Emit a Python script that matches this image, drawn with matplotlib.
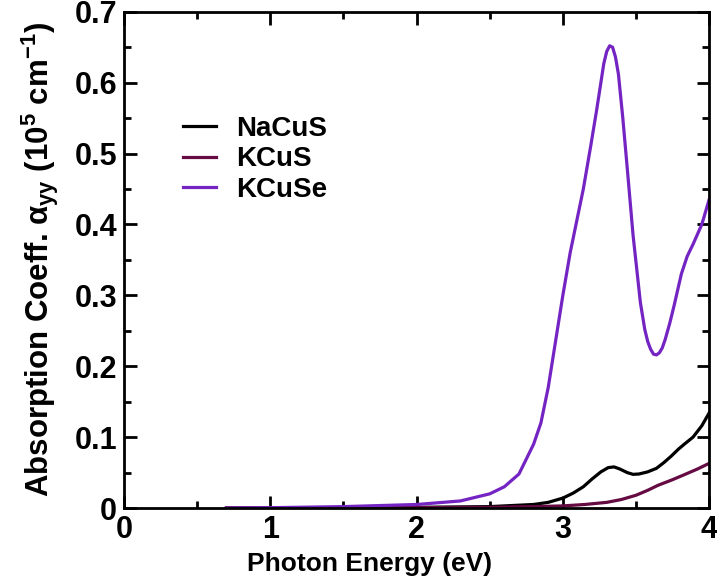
import matplotlib
matplotlib.use('Agg')
import matplotlib.pyplot as plt
from matplotlib.ticker import MultipleLocator

plt.rcParams.update({
    'font.family': 'Liberation Sans',
    'font.weight': 'bold',
    'mathtext.fontset': 'custom',
    'mathtext.rm': 'Liberation Sans:bold',
    'mathtext.bf': 'Liberation Sans:bold',
    'mathtext.it': 'Liberation Sans:bold',
    'xtick.direction': 'in',
    'ytick.direction': 'in',
})

# ── Dados ──────────────────────────────────────────────────────────────────────
e_kcuse = [0.7, 1.0, 1.5, 2.0, 2.3, 2.5, 2.6, 2.7, 2.8, 2.85, 2.9, 2.95, 3.0,
           3.05, 3.1, 3.14, 3.19, 3.23, 3.26, 3.28, 3.30, 3.32, 3.34, 3.36,
           3.38, 3.41, 3.44, 3.48, 3.53, 3.56, 3.58, 3.60, 3.62, 3.64, 3.66,
           3.68, 3.70, 3.73, 3.76, 3.81, 3.85, 3.89, 3.95, 4.0]
a_kcuse = [0.0, 0.0005, 0.002, 0.005, 0.01, 0.02, 0.03, 0.048, 0.09, 0.12,
           0.17, 0.235, 0.30, 0.36, 0.41, 0.45, 0.51, 0.56, 0.60, 0.627, 0.644,
           0.652, 0.650, 0.636, 0.612, 0.55, 0.48, 0.385, 0.29, 0.252, 0.235,
           0.224, 0.217, 0.216, 0.219, 0.226, 0.238, 0.26, 0.285, 0.33, 0.355,
           0.372, 0.40, 0.435]

e_nacus = [0.7, 1.5, 2.0, 2.5, 2.8, 2.9, 3.0, 3.07, 3.14, 3.2, 3.26, 3.31,
           3.35, 3.39, 3.44, 3.48, 3.52, 3.58, 3.64, 3.69, 3.74, 3.79, 3.83,
           3.89, 3.95, 4.0]
a_nacus = [0.0, 0.0005, 0.001, 0.002, 0.005, 0.008, 0.014, 0.021, 0.030,
           0.041, 0.051, 0.057, 0.058, 0.055, 0.050, 0.0475, 0.048, 0.051,
           0.056, 0.064, 0.073, 0.083, 0.090, 0.100, 0.116, 0.134]

e_kcus = [0.7, 2.0, 2.5, 2.8, 3.0, 3.15, 3.3, 3.4, 3.5, 3.58, 3.65, 3.75,
          3.83, 3.92, 4.0]
a_kcus = [0.0, 0.0005, 0.001, 0.002, 0.003, 0.005, 0.008, 0.012, 0.018,
          0.025, 0.032, 0.040, 0.047, 0.055, 0.063]

x_ticks = [0, 1, 2, 3, 4]
y_ticks = [0, 0.1, 0.2, 0.3, 0.4, 0.5, 0.6, 0.7]
y_labels = ['0', '0.1', '0.2', '0.3', '0.4', '0.5', '0.6', '0.7']

series = [
    ('NaCuS', e_nacus, a_nacus, '#000000'),
    ('KCuS',  e_kcus,  a_kcus,  '#650a42'),
    ('KCuSe', e_kcuse, a_kcuse, '#7424c2'),
]

# ── Figura ─────────────────────────────────────────────────────────────────────
fig = plt.figure(figsize=(7.17, 5.88), dpi=100)
ax = fig.add_axes([0.173, 0.136, 0.816, 0.844])

for nome, x, y, cor in series:
    ax.plot(x, y, color=cor, lw=2.3, label=nome)

ax.set_xlim(0, 4)
ax.set_ylim(0, 0.7)
ax.set_xticks(x_ticks)
ax.set_xticklabels([str(t) for t in x_ticks])
ax.set_yticks(y_ticks)
ax.set_yticklabels(y_labels)
ax.xaxis.set_minor_locator(MultipleLocator(0.5))
ax.yaxis.set_minor_locator(MultipleLocator(0.05))
ax.tick_params(which='both', top=True, right=True, width=2)
ax.tick_params(which='major', length=9, labelsize=22, pad=5)
ax.tick_params(which='minor', length=5)
for s in ax.spines.values():
    s.set_linewidth(2)

ax.set_xlabel('Photon Energy (eV)', fontsize=19, fontweight='bold',
              labelpad=5, x=0.42)
ax.set_ylabel(r'Absorption Coeff. $\alpha_{yy}$ (10$^{5}$ cm$^{-1}$)',
              fontsize=22.5, fontweight='bold', labelpad=10)

ax.legend(loc='upper left', bbox_to_anchor=(0.101, 0.79), frameon=False,
          fontsize=20, handlelength=1.2, handletextpad=0.7, labelspacing=0.16,
          borderpad=0, borderaxespad=0)

fig.savefig('out.png', dpi=100)
